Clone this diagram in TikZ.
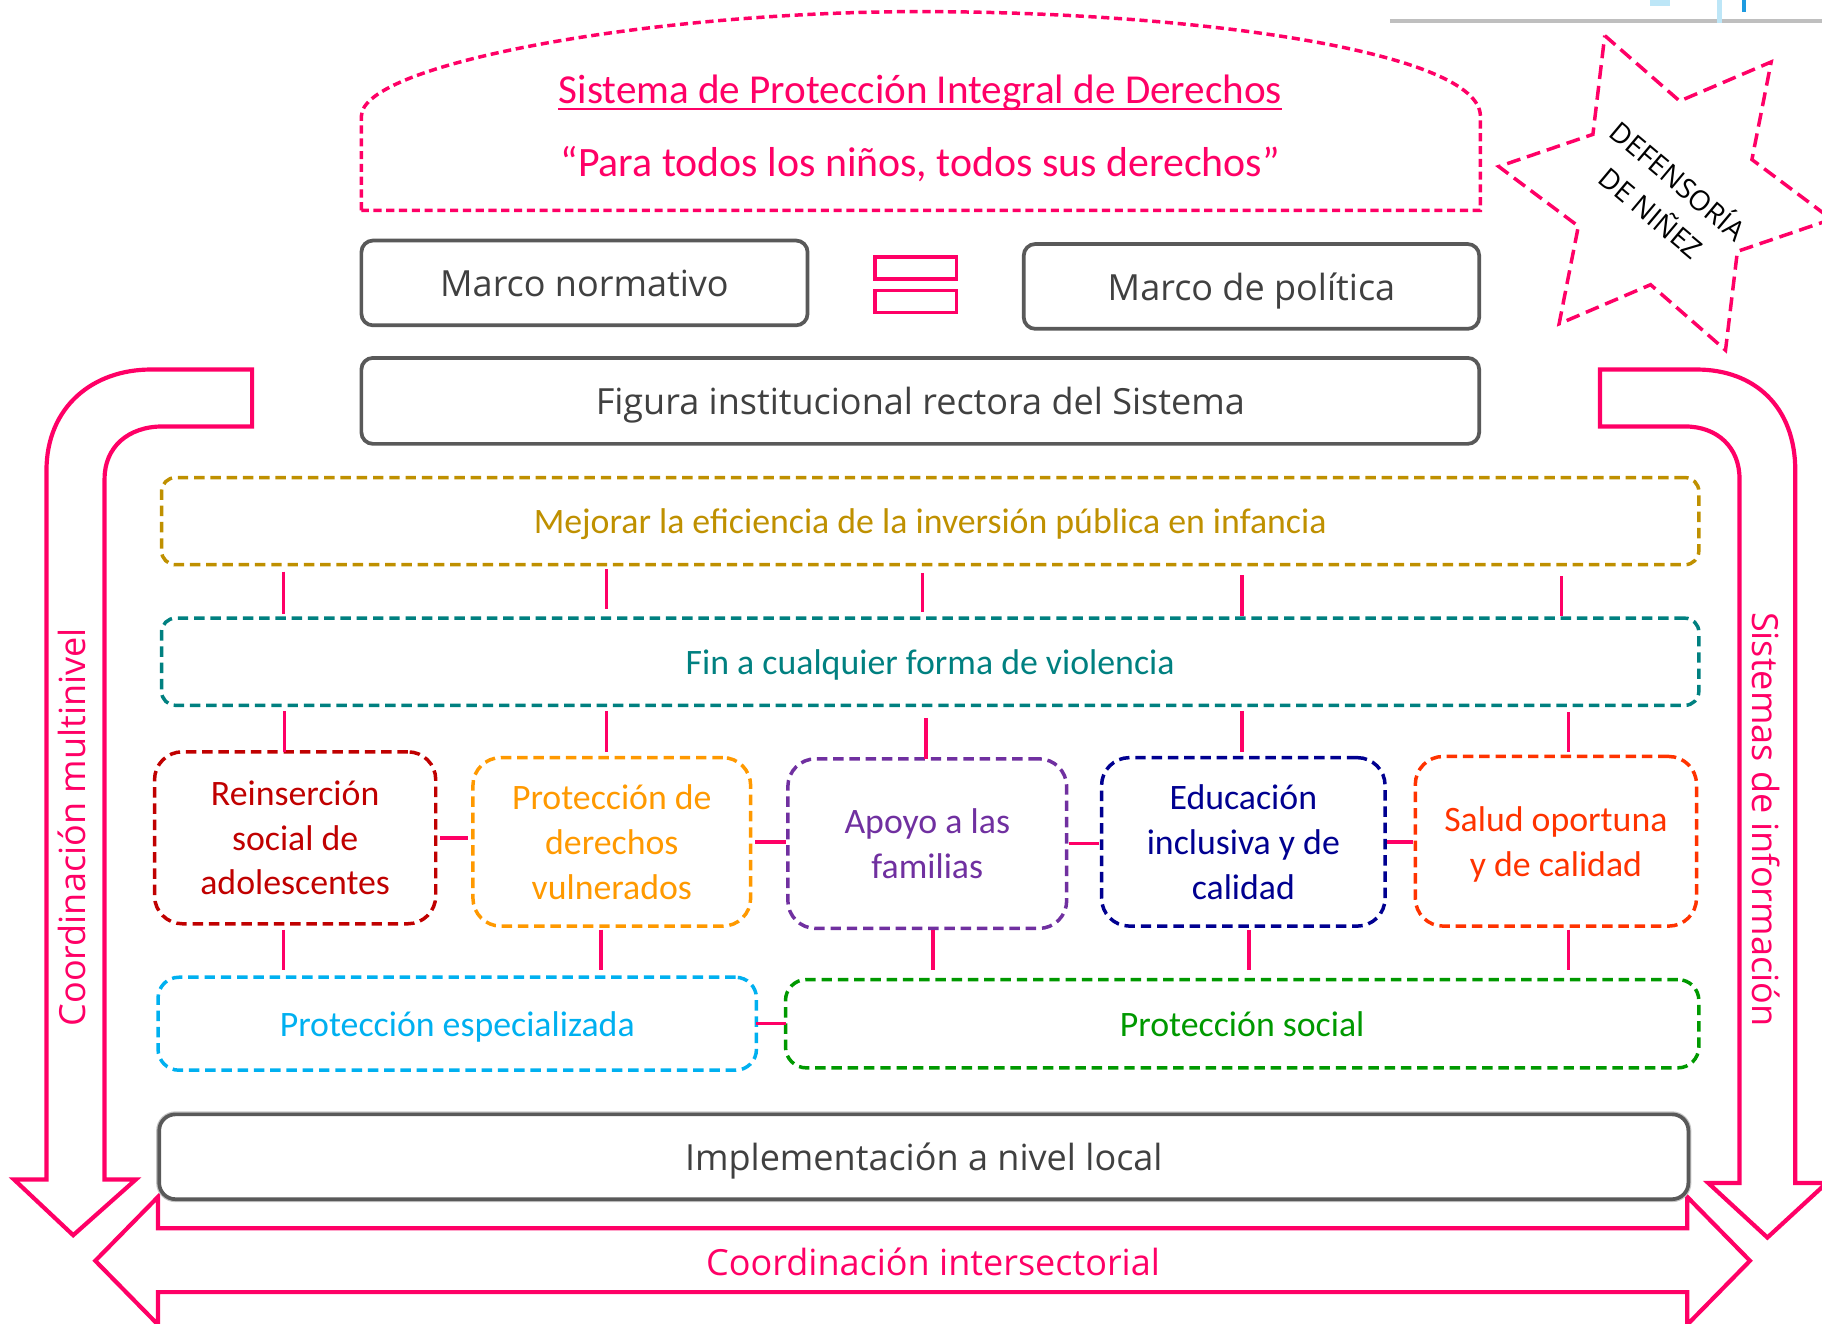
\documentclass[tikz,border=0pt]{standalone}
\usepackage{fontspec}
\setmainfont{Carlito}
\newfontfamily\osans{Open Sans}
\usetikzlibrary{calc}
\definecolor{pk}{HTML}{FF0066}
\definecolor{boxgray}{HTML}{595959}
\definecolor{txtgray}{HTML}{404040}
\definecolor{cgold}{HTML}{BF9000}
\definecolor{cteal}{HTML}{008080}
\definecolor{cdred}{HTML}{C00000}
\definecolor{corange}{HTML}{FF9900}
\definecolor{cpurple}{HTML}{7030A0}
\definecolor{cnavy}{HTML}{000090}
\definecolor{cred}{HTML}{FF3300}
\definecolor{cblue}{HTML}{00B0F0}
\definecolor{cgreen}{HTML}{009900}
\definecolor{lgline}{HTML}{BFBFBF}
\definecolor{lblue}{HTML}{BDE6F7}
\definecolor{dblue}{HTML}{1E9BE0}
\begin{document}
\begin{tikzpicture}[x=0.5pt,y=-0.5pt,
  graybox/.style={draw=boxgray, line width=1.6pt, rounded corners=5pt, fill=white, inner sep=0pt, outer sep=0pt, text=txtgray, text depth=0pt, font=\osans\fontsize{15.5}{18}\selectfont},
  dbox/.style={draw=#1, text=#1, dash pattern=on 4.5pt off 2.5pt, line width=1.5pt, rounded corners=6pt, inner sep=0pt, outer sep=0pt, align=center, text depth=0pt, font=\fontsize{15.4}{19.3}\selectfont},
  rbox/.style={dbox=#1, rounded corners=12pt},
  conn/.style={draw=pk, line width=1.5pt},
  bigarrow/.style={draw=pk, line width=1.8pt, fill=white, line join=miter},
  sidetext/.style={text=pk, font=\osans\fontsize{15.5}{18}\selectfont, inner sep=0pt},
  eqbar/.style={draw=pk, line width=1.5pt, inner sep=0pt, outer sep=0pt, minimum width=35pt, minimum height=9.5pt}
]
\useasboundingbox (0,0) rectangle (1568,1139);
\clip (0,0) rectangle (1568,1139);

% top-right fragments
\draw[lgline, line width=1.5pt] (1196,18) -- (1568,18);
\fill[lblue] (1420,0) rectangle (1437,5);
\fill[lblue] (1478,0) rectangle (1482,20);
\fill[dblue] (1499,0) rectangle (1503,10);

% dome
\draw[pk, line width=1.5pt, dash pattern=on 3.5pt off 2pt]
  (311,181) -- (311,100) .. controls (311,55) and (560,10) .. (792,10)
  .. controls (1030,10) and (1274,45) .. (1274,100) -- (1274,181) -- cycle;
\node[font=\fontsize{17.7}{20}\selectfont, text=pk, inner sep=0pt] (t1) at (792,80) {Sistema de Protección Integral de Derechos};
\draw[pk, line width=1pt] ([yshift=-2.2pt]t1.base west) -- ([yshift=-2.2pt]t1.base east);
\node[font=\fontsize{18}{20}\selectfont, text=pk, inner sep=0pt] (t2) at (792,141) {“Para todos los niños, todos sus derechos”};

% star
\begin{scope}[shift={(1433,166)}, x=0.5pt, y=0.5pt]
\draw[pk, line width=1.5pt, dash pattern=on 6pt off 3pt]
  (111:145) -- (81:80) -- (51:145) -- (21:80) -- (-9:145) -- (-39:80)
  -- (-69:145) -- (-99:80) -- (-129:145) -- (-159:80) -- (171:145) -- (141:80) -- cycle;
\end{scope}
\node[rotate=-40, align=center, font=\osans\fontsize{12}{18}\selectfont, inner sep=0pt] (def) at (1434,168) {DEFENSORÍA\\DE NIÑEZ};

% framework boxes
\node[graybox, minimum width=192pt, minimum height=36.5pt] (mn) at (503,243.5) {Marco normativo};
\node[graybox, minimum width=196pt, minimum height=36.5pt] (mp) at (1077,246.5) {Marco de política};
\node[eqbar] (eq1) at (788,230.5) {};
\node[eqbar] (eq2) at (788,259.5) {};
\node[graybox, minimum width=481pt, minimum height=37pt] (fig) at (792,345) {Figura institucional rectora del Sistema};

% left bent arrow
\draw[bigarrow] (217,318) -- (217,367) -- (140,367) .. controls (110,367) and (90,385) .. (90,412)
  -- (90,1015) -- (117,1015) -- (63,1063) -- (12,1015) -- (40,1015) -- (40,405)
  .. controls (40,350) and (80,318) .. (130,318) -- cycle;
\node[sidetext, rotate=90] (cm) at (62,712) {Coordinación multinivel};

% right bent arrow
\draw[bigarrow] (1377,318) -- (1460,318) .. controls (1510,318) and (1545,350) .. (1545,405)
  -- (1545,1018) -- (1572,1018) -- (1521,1065) -- (1470,1018) -- (1497,1018) -- (1497,412)
  .. controls (1497,385) and (1478,367) .. (1450,367) -- (1377,367) -- cycle;
\node[sidetext, rotate=-90] (si) at (1520,705) {Sistemas de información};

% bottom double arrow
\draw[bigarrow] (136,1057) -- (136,1030) -- (82,1085) -- (136,1140) -- (136,1112) -- (1452,1112)
  -- (1452,1140) -- (1506,1085) -- (1452,1030) -- (1452,1057) -- cycle;
\node[sidetext] (ci) at (803,1086) {Coordinación intersectorial};

% objectives
\node[dbox=cgold, minimum width=661.5pt, minimum height=37.5pt] (mej) at (800.5,448.5) {Mejorar la eficiencia de la inversión pública en infancia};
\node[dbox=cteal, minimum width=661.5pt, minimum height=37.5pt] (fin) at (800.5,569.5) {Fin a cualquier forma de violencia};

\node[rbox=cdred, minimum width=121pt, minimum height=74pt] (r1) at (254,721) {Reinserción\\social de\\adolescentes};
\node[rbox=corange, minimum width=119.5pt, minimum height=72.5pt] (r2) at (526.5,724.5) {Protección de\\derechos\\vulnerados};
\node[rbox=cpurple, minimum width=120pt, minimum height=73pt] (r3) at (798,726) {Apoyo a las\\familias};
\node[rbox=cnavy, minimum width=122pt, minimum height=72.5pt] (r4) at (1070,724.5) {Educación\\inclusiva y de\\calidad};
\node[rbox=cred, minimum width=121pt, minimum height=73pt] (r5) at (1339,724) {Salud oportuna\\y de calidad};

\node[dbox=cblue, rounded corners=9pt, minimum width=257.5pt, minimum height=40pt] (pe) at (393.5,881) {Protección especializada};
\node[dbox=cgreen, rounded corners=9pt, minimum width=393pt, minimum height=38pt] (ps) at (1069,881) {Protección social};

% implementation box
\node[graybox, rounded corners=7pt, minimum width=658pt, minimum height=36.5pt,
  preaction={draw=gray!45, line width=2.6pt}] (imp) at (795,995.5) {Implementación a nivel local};

% connectors mej -> fin
\draw[conn] ($(mej.south -| r1.center)+(-10,6)$) -- ($(fin.north -| r1.center)+(-10,-4)$);
\draw[conn] ($(mej.south -| r2.center)+(-4.5,4)$) -- ($(fin.north -| r2.center)+(-4.5,-8)$);
\draw[conn] ($(mej.south -| r3.center)+(-4,7)$) -- ($(fin.north -| r3.center)+(-4,-5)$);
\draw[conn] ($(mej.south -| r4.center)+(-1,9)$) -- ($(fin.north -| r4.center)+(-1,-2)$);
\draw[conn] ($(mej.south -| r5.center)+(5,10)$) -- ($(fin.north -| r5.center)+(5,-2)$);

% connectors fin -> row
\draw[conn] ($(fin.south -| r1.center)+(-9,5)$) -- ($(r1.north)+(-9,0)$);
\draw[conn] ($(fin.south -| r2.center)+(-4.5,5)$) -- ($(r2.north)+(-4.5,-5)$);
\draw[conn] ($(fin.south -| r3.center)+(-1,11)$) -- ($(r3.north)+(-1,0)$);
\draw[conn] ($(fin.south -| r4.center)+(-1,5)$) -- ($(r4.north)+(-1,-5)$);
\draw[conn] ($(fin.south -| r5.center)+(11,6)$) -- ($(r5.north)+(11,-4)$);

% horizontal row connectors
\draw[conn, shorten <=2pt, shorten >=2pt] (r1.east) -- (r1.east -| r2.west);
\draw[conn, shorten <=2pt, shorten >=1pt] (r2.east) -- (r2.east -| r3.west);
\draw[conn, shorten <=1pt, shorten >=1pt] (r3.east) -- (r3.east -| r4.west);
\draw[conn, shorten <=1pt, shorten >=1pt] (r4.east) -- (r4.east -| r5.west);

% connectors row -> bottom
\draw[conn] ($(r1.south)+(-10,5)$) -- ($(pe.north -| r1.center)+(-10,-6)$);
\draw[conn] ($(r2.south)+(-9.5,3)$) -- ($(pe.north -| r2.center)+(-9.5,-6)$);
\draw[conn] ($(r3.south)+(5,1)$) -- ($(ps.north -| r3.center)+(5,-8)$);
\draw[conn] ($(r4.south)+(5,3)$) -- ($(ps.north -| r4.center)+(5,-8)$);
\draw[conn] ($(r5.south)+(11,3)$) -- ($(ps.north -| r5.center)+(11,-8)$);

\draw[conn] (pe.east) -- (pe.east -| ps.west);
\end{tikzpicture}
\end{document}
